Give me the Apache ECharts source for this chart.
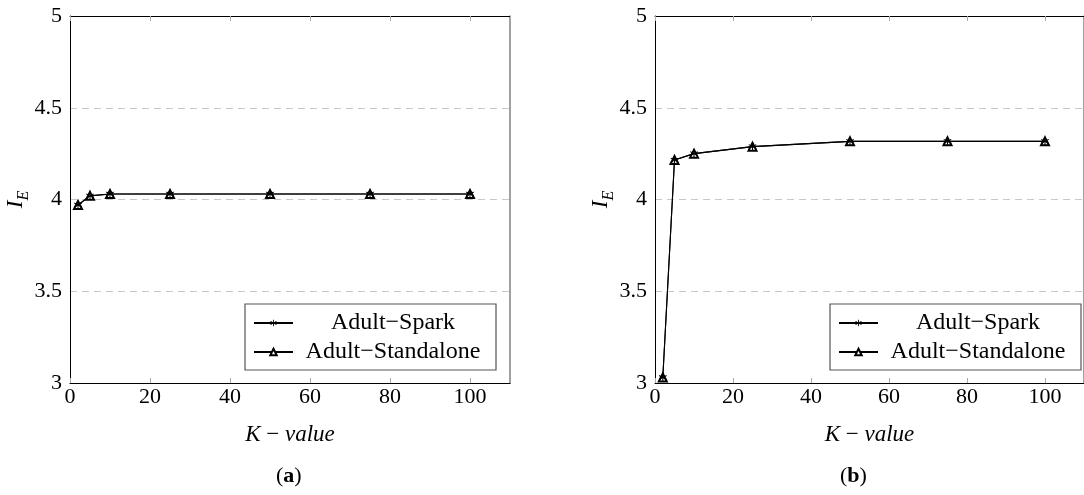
<!DOCTYPE html>
<html>
<head>
<meta charset="utf-8">
<script src="https://cdn.jsdelivr.net/npm/echarts@6/dist/echarts.min.js"></script>
<style>
  html, body { margin: 0; padding: 0; background: #fff; }
  #chart { width: 1084px; height: 495px; }
</style>
</head>
<body>
<div id="chart"></div>
<script>
// K values on the x axis
var kValues = [2, 5, 10, 25, 50, 75, 100];
// panel (a)
var sparkA = [3.97, 4.02, 4.03, 4.03, 4.03, 4.03, 4.03];
var standaloneA = [3.97, 4.02, 4.03, 4.03, 4.03, 4.03, 4.03];
// panel (b)
var sparkB = [3.03, 4.215, 4.25, 4.288, 4.317, 4.317, 4.317];
var standaloneB = [3.03, 4.215, 4.25, 4.288, 4.317, 4.317, 4.317];
var seriesNames = ['Adult\u2212Spark', 'Adult\u2212Standalone'];

var FONT = 'Liberation Serif';
// asterisk mark, like the pgfplots "star"
var STAR = 'path://M4.4 0h1.2v10h-1.2z M0.97 1.98L9.63 6.98L9.03 8.02L0.37 3.02Z M0.37 6.98L9.03 1.98L9.63 3.02L0.97 8.02Z';

function pairs(xs, ys) {
  return xs.map(function (x, i) { return [x, ys[i]]; });
}

function xAxes(grid) {
  return [{
    type: 'value', gridIndex: grid, position: 'bottom', min: 0, max: 110, interval: 20,
    axisLine: { lineStyle: { color: '#000', width: 1 } },
    axisTick: { inside: true, length: 5, lineStyle: { color: '#aaa' } },
    axisLabel: { showMaxLabel: false, color: '#000', fontFamily: FONT, fontSize: 22, margin: 3 },
    splitLine: { show: false },
    name: '{i|K}{n| \u2212 }{i|value}', nameLocation: 'middle', nameGap: 40,
    nameTextStyle: {
      rich: {
        i: { fontFamily: FONT, fontStyle: 'italic', fontSize: 23, color: '#000' },
        n: { fontFamily: FONT, fontSize: 23, color: '#000' }
      }
    }
  }, {
    type: 'value', gridIndex: grid, position: 'top', min: 0, max: 110, interval: 20,
    axisLine: { lineStyle: { color: '#000', width: 1 } },
    axisTick: { inside: true, length: 5, lineStyle: { color: '#aaa' } },
    axisLabel: { show: false },
    splitLine: { show: false }
  }];
}

function yAxes(grid) {
  return [{
    type: 'value', gridIndex: grid, position: 'left', min: 3, max: 5, interval: 0.5,
    axisLine: { show: true, lineStyle: { color: '#000', width: 1 } },
    axisTick: { show: false },
    axisLabel: { color: '#000', fontFamily: FONT, fontSize: 22, margin: 8 },
    splitLine: { show: true, lineStyle: { color: '#c8c8c8', type: [7, 5], width: 1 } },
    name: '{i|I}{s|E}', nameLocation: 'middle', nameGap: 38, nameRotate: 90,
    nameMoveOverlap: false,
    nameTextStyle: {
      rich: {
        i: { fontFamily: FONT, fontStyle: 'italic', fontSize: 23, color: '#000', verticalAlign: 'top', lineHeight: 28 },
        s: { fontFamily: FONT, fontStyle: 'italic', fontSize: 16, color: '#000', verticalAlign: 'bottom', lineHeight: 28 }
      }
    }
  }, {
    type: 'value', gridIndex: grid, position: 'right', min: 3, max: 5, interval: 0.5,
    axisLine: { show: true, onZero: false, lineStyle: { color: '#808080', width: 1.5 } },
    axisTick: { show: false },
    axisLabel: { show: false },
    splitLine: { show: false }
  }];
}

function makeSeries(grid, spark, standalone) {
  return [{
    name: seriesNames[0], type: 'line', xAxisIndex: grid * 2, yAxisIndex: grid * 2,
    data: pairs(kValues, spark),
    symbol: STAR, symbolSize: 8,
    itemStyle: { color: '#000' },
    lineStyle: { color: '#000', width: 1.1 },
    animation: false
  }, {
    name: seriesNames[1], type: 'line', xAxisIndex: grid * 2, yAxisIndex: grid * 2,
    data: pairs(kValues, standalone),
    symbol: 'emptyTriangle', symbolSize: 8,
    itemStyle: { color: '#000', borderColor: '#000', borderWidth: 0.8, opacity: 1 },
    lineStyle: { color: '#000', width: 1.1 },
    z: 1,
    animation: false
  }];
}

function makeLegend(left) {
  return {
    data: seriesNames, orient: 'vertical', left: left, top: 304,
    backgroundColor: '#fff', borderColor: '#555', borderWidth: 1.2, borderRadius: 0,
    padding: [7, 8, 6, 8], itemGap: 5, itemWidth: 39, itemHeight: 8,
    selectedMode: false,
    formatter: '{c|{name}}',
    textStyle: {
      rich: { c: { fontFamily: FONT, fontSize: 24, color: '#000', width: 190, align: 'center', lineHeight: 24 } }
    }
  };
}

var chart = echarts.init(document.getElementById('chart'));
chart.setOption({
  backgroundColor: '#fff',
  animation: false,
  grid: [
    { left: 70, top: 16, width: 440, height: 367 },
    { left: 655, top: 16, width: 441, height: 367 }
  ],
  xAxis: xAxes(0).concat(xAxes(1)),
  yAxis: yAxes(0).concat(yAxes(1)),
  legend: [makeLegend(245), makeLegend(830)],
  series: makeSeries(0, sparkA, standaloneA).concat(makeSeries(1, sparkB, standaloneB)),
  graphic: [
    { type: 'text', left: 276, top: 465, style: { text: '({b|a})', fontFamily: FONT, fontSize: 22, fill: '#000',
      rich: { b: { fontFamily: FONT, fontSize: 22, fontWeight: 'bold', fill: '#000' } } } },
    { type: 'text', left: 840, top: 465, style: { text: '({b|b})', fontFamily: FONT, fontSize: 22, fill: '#000',
      rich: { b: { fontFamily: FONT, fontSize: 22, fontWeight: 'bold', fill: '#000' } } } }
  ]
});
</script>
</body>
</html>
